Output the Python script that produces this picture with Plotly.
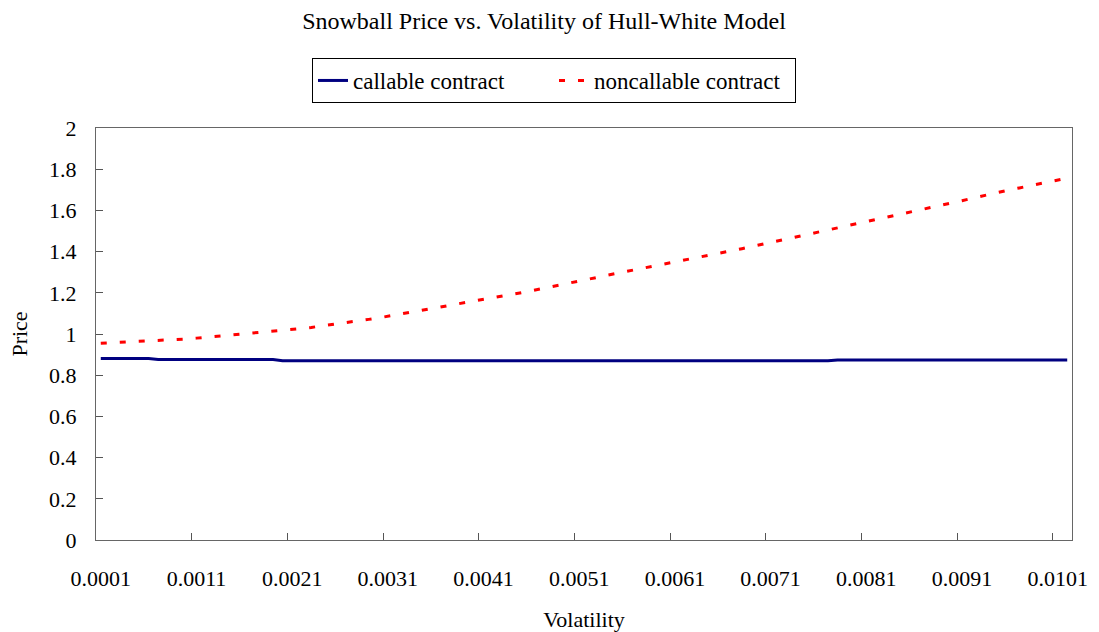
import plotly.graph_objects as go

# Volatility categories 0.0001 ... 0.0102 (one category per 0.0001)
volatility = [f"{0.0001 * (i + 1):.4f}" for i in range(102)]

callable_price = (
    [0.881] * 6 + [0.876] * 13 + [0.870] * 58 + [0.874] * 25
)

noncallable_price = [
    0.955, 0.957, 0.960, 0.962, 0.964, 0.966, 0.968, 0.970, 0.973, 0.976,
    0.980, 0.984, 0.988, 0.992, 0.996, 1.000, 1.004, 1.008, 1.013, 1.017,
    1.022, 1.027, 1.032, 1.038, 1.044, 1.050, 1.057, 1.064, 1.071, 1.078,
    1.086, 1.094, 1.102, 1.110, 1.118, 1.126, 1.134, 1.142, 1.151, 1.159,
    1.168, 1.177, 1.185, 1.193, 1.201, 1.210, 1.219, 1.228, 1.238, 1.247,
    1.257, 1.266, 1.276, 1.286, 1.295, 1.304, 1.313, 1.321, 1.330, 1.339,
    1.348, 1.357, 1.367, 1.376, 1.386, 1.395, 1.404, 1.414, 1.424, 1.434,
    1.444, 1.454, 1.464, 1.474, 1.484, 1.494, 1.504, 1.514, 1.524, 1.534,
    1.544, 1.554, 1.564, 1.575, 1.585, 1.596, 1.607, 1.617, 1.627, 1.637,
    1.647, 1.658, 1.669, 1.680, 1.690, 1.700, 1.709, 1.718, 1.727, 1.736,
    1.746, 1.757,
]

x_tick_labels = ["0.0001", "0.0011", "0.0021", "0.0031", "0.0041", "0.0051",
                 "0.0061", "0.0071", "0.0081", "0.0091", "0.0101"]
y_tick_values = [0, 0.2, 0.4, 0.6, 0.8, 1, 1.2, 1.4, 1.6, 1.8, 2]
y_tick_labels = ["0", "0.2", "0.4", "0.6", "0.8", "1", "1.2", "1.4", "1.6", "1.8", "2"]

idx = list(range(len(volatility)))
label_pos = [volatility.index(t) for t in x_tick_labels]
boundary_pos = [p - 0.5 for p in label_pos[1:]]

FONT = "Liberation Serif"

fig = go.Figure()
fig.add_trace(go.Scatter(
    x=idx, y=callable_price, mode="lines", name="callable contract",
    line=dict(color="#000080", width=3), customdata=volatility,
))
fig.add_trace(go.Scatter(
    x=idx, y=noncallable_price, mode="lines", name="noncallable contract",
    line=dict(color="#FF0000", width=3, dash="6px,13px"), customdata=volatility,
))

fig.update_layout(
    width=1099, height=632,
    margin=dict(l=96, r=27, t=128, b=92),
    paper_bgcolor="white", plot_bgcolor="white",
    font=dict(family=FONT, size=22, color="black"),
    title=dict(text="Snowball Price vs. Volatility of Hull-White Model",
               x=544 / 1099, xanchor="center", y=1 - 21 / 632, yanchor="middle",
               font=dict(family=FONT, size=24, color="black")),
    legend=dict(orientation="h", xref="container", yref="container",
                x=554 / 1099, xanchor="center", y=1 - 58 / 632, yanchor="top",
                bordercolor="black", borderwidth=1, bgcolor="white",
                font=dict(family=FONT, size=23, color="black"), itemwidth=30,
                entrywidth=196, entrywidthmode="pixels"),
    showlegend=True,
)
fig.update_xaxes(
    range=[-0.5, len(volatility) - 0.5],
    tickmode="array", tickvals=label_pos, ticktext=x_tick_labels,
    ticks="", ticklabelstandoff=19, automargin=False,
    minor=dict(tickmode="array", tickvals=boundary_pos, ticks="inside",
               ticklen=7, tickcolor="#555555", tickwidth=1),
    showline=True, linecolor="#666666", linewidth=1, mirror=True,
    showgrid=False, zeroline=False,
    title=dict(text="Volatility", font=dict(family=FONT, size=22), standoff=28),
)
fig.update_yaxes(
    range=[0, 2], tickmode="array", tickvals=y_tick_values, ticktext=y_tick_labels,
    ticks="inside", ticklen=7, tickcolor="#555555",
    ticklabelstandoff=14, automargin=False,
    showline=True, linecolor="#666666", linewidth=1, mirror=True,
    showgrid=False, zeroline=False,
    title=dict(text="Price", font=dict(family=FONT, size=22), standoff=15),
)

fig.write_html("out.html")
